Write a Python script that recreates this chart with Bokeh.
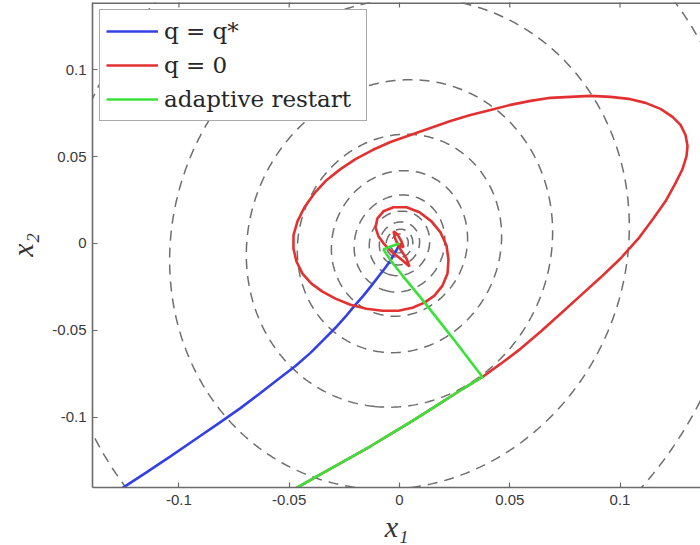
import numpy as np
from bokeh.plotting import figure
from bokeh.models import Range1d, FixedTicker, Legend, LegendItem
from bokeh.embed import file_html
from bokeh.resources import INLINE

# Quadratic objective f(x) = a*x1^2 + 2*b*x1*x2 + c*x2^2 and its contour levels
quad_a = 92.5
quad_b = -4.7
quad_c = 50.2
contour_levels = [0.0015, 0.0034, 0.0077, 0.0173, 0.039, 0.0878, 0.1975, 0.444, 1.0, 2.25]

# Iterate trajectories (x1, x2)
blue_x1 = [-0.13197, -0.12517, -0.11474, -0.10385, -0.09252, -0.08118, -0.07211,
           -0.06304, -0.05487, -0.04717, -0.04036, -0.03447, -0.02902, -0.02449,
           -0.01995, -0.01633, -0.01270, -0.00952, -0.00635, -0.00408, -0.00227,
           -0.00091, 0.0]
blue_x2 = [-0.14624, -0.14046, -0.13179, -0.12254, -0.11272, -0.10289, -0.09480,
           -0.08613, -0.07803, -0.07052, -0.06301, -0.05549, -0.04855, -0.04220,
           -0.03526, -0.03006, -0.02428, -0.01907, -0.01387, -0.00983, -0.00578,
           -0.00289, 0.0]

# shared start of the q = 0 and adaptive-restart runs (identical until the restart)
start_x1 = [-0.05397, -0.04626, -0.03583, -0.02449, -0.01315, -0.00408, 0.00499,
            0.01859, 0.02857, 0.03764]
start_x2 = [-0.14624, -0.14046, -0.13295, -0.12485, -0.11676, -0.10983, -0.10289,
            -0.09191, -0.08381, -0.07688]

red_tail_x1 = [0.04580, 0.05487, 0.06395, 0.07302, 0.08209, 0.09116, 0.10023, 0.10839,
               0.11519, 0.12063, 0.12517, 0.12834, 0.13016, 0.13061, 0.12971, 0.12744,
               0.12381, 0.11837, 0.11156, 0.10385, 0.09569, 0.08662, 0.07755, 0.06848,
               0.05941, 0.05034, 0.04127, 0.03220, 0.02313, 0.01406, 0.00499, -0.00408,
               -0.01224, -0.01995, -0.02676, -0.03311, -0.03855, -0.04308, -0.04626,
               -0.04807, -0.04807, -0.04671, -0.04399, -0.03991, -0.03492, -0.02902,
               -0.02222, -0.01497, -0.00771, -0.00045, 0.00590, 0.01134, 0.01587,
               0.01950, 0.02177, 0.02222, 0.02132, 0.01859, 0.01451, 0.00907, 0.00317,
               -0.00272, -0.00726, -0.00998, -0.01088, -0.00952, -0.00680, -0.00317,
               0.00091, 0.00454, 0.00317, 0.00045, -0.00181, -0.00272, -0.00091,
               0.00091, 0.00181, 0.00045, 0.0]
red_tail_x2 = [-0.06936, -0.06069, -0.05087, -0.04046, -0.03006, -0.01965, -0.00867,
               0.00289, 0.01445, 0.02428, 0.03468, 0.04277, 0.05029, 0.05607, 0.06243,
               0.06821, 0.07283, 0.07746, 0.08092, 0.08324, 0.08439, 0.08497, 0.08439,
               0.08382, 0.08208, 0.07977, 0.07688, 0.07399, 0.07052, 0.06647, 0.06243,
               0.05838, 0.05376, 0.04855, 0.04277, 0.03642, 0.02890, 0.02081, 0.01272,
               0.00462, -0.00289, -0.01040, -0.01734, -0.02312, -0.02775, -0.03179,
               -0.03526, -0.03757, -0.03873, -0.03873, -0.03699, -0.03410, -0.03006,
               -0.02428, -0.01734, -0.00925, -0.00116, 0.00636, 0.01272, 0.01792,
               0.02081, 0.02081, 0.01850, 0.01445, 0.00925, 0.00405, -0.00058, -0.00520,
               -0.00925, -0.01329, -0.00867, -0.00347, 0.00231, 0.00694, 0.00520,
               0.00116, -0.00231, -0.00116, 0.0]

green_tail_x1 = [0.02404, 0.00998, 0.00136, -0.00363, -0.00726, -0.00408, 0.0]
green_tail_x2 = [-0.05434, -0.03179, -0.01850, -0.01040, -0.00347, -0.00173, 0.0]

red_x1 = start_x1 + red_tail_x1
red_x2 = start_x2 + red_tail_x2
green_x1 = start_x1 + green_tail_x1
green_x2 = start_x2 + green_tail_x2

series_labels = ["q = q*", "q = 0", "adaptive restart"]
series_colors = ["#3340e6", "#e23131", "#38e238"]

tick_values = [-0.1, -0.05, 0, 0.05, 0.1]
tick_labels = ["-0.1", "-0.05", "0", "0.05", "0.1"]

x_start, x_end = -0.1392, 0.1365
y_start, y_end = -0.1405, 0.1387

p = figure(width=700, height=545,
           x_range=Range1d(x_start, x_end), y_range=Range1d(y_start, y_end),
           output_backend="svg", toolbar_location=None,
           min_border_left=92, min_border_right=0, min_border_top=2,
           min_border_bottom=58, outline_line_color=None,
           background_fill_color="white", border_fill_color="white")
p.grid.visible = False

# dashed level sets of the objective
xs = np.linspace(-0.3, 0.3, 481)
ys = np.linspace(-0.35, 0.35, 561)
X, Y = np.meshgrid(xs, ys)
Z = quad_a * X**2 + 2 * quad_b * X * Y + quad_c * Y**2
p.contour(xs, ys, Z, contour_levels, line_color="#6e6e6e", line_dash="10 7",
          line_width=1.5)

r_blue = p.line(blue_x1, blue_x2, line_color=series_colors[0], line_width=2.6)
r_red = p.line(red_x1, red_x2, line_color=series_colors[1], line_width=2.6)
r_green = p.line(green_x1, green_x2, line_color=series_colors[2], line_width=2.6)

axis_color = "#6a6a6a"

# top edge of the box with inward tick marks (the frame clips the outer half)
p.hspan(y=[y_end], line_color=axis_color, line_width=3.2)
p.scatter(x=tick_values, y=[y_end] * len(tick_values), marker="dash", size=10,
          angle=np.pi / 2, line_color=axis_color, line_width=1.2)

for ax in (p.xaxis[0], p.yaxis[0]):
    ax.ticker = FixedTicker(ticks=tick_values)
    ax.major_label_overrides = dict(zip(tick_values, tick_labels))
    ax.axis_line_color = axis_color
    ax.axis_line_width = 1.6
    ax.major_tick_line_color = axis_color
    ax.major_tick_line_width = 1.2
    ax.major_tick_in = 5
    ax.major_tick_out = 0
    ax.minor_tick_line_color = None
    ax.major_label_text_font = "Liberation Sans"
    ax.major_label_text_font_size = "15px"
    ax.major_label_text_color = "#3a3a3a"
    ax.axis_label_text_font = "Liberation Serif"
    ax.axis_label_text_font_style = "italic"
    ax.axis_label_text_font_size = "30px"
    ax.axis_label_text_color = "#333333"

p.xaxis[0].axis_label = "x₁"
p.xaxis[0].major_label_standoff = 7
p.xaxis[0].axis_label_standoff = 2
p.yaxis[0].axis_label = "x₂"
p.yaxis[0].major_label_standoff = 6
p.yaxis[0].axis_label_standoff = 10

legend = Legend(items=[LegendItem(label=series_labels[0], renderers=[r_blue]),
                       LegendItem(label=series_labels[1], renderers=[r_red]),
                       LegendItem(label=series_labels[2], renderers=[r_green])],
                location="top_left")
legend.label_text_font = "DejaVu Serif"
legend.label_text_font_size = "23px"
legend.label_text_color = "#262626"
legend.glyph_width = 52
legend.glyph_height = 30
legend.label_height = 30
legend.label_width = 196
legend.label_standoff = 6
legend.spacing = 4
legend.padding = 6
legend.margin = 7
legend.border_line_color = "#555555"
legend.border_line_width = 1.5
legend.background_fill_alpha = 1.0
p.add_layout(legend)

open("out.html", "w").write(file_html(p, INLINE))
